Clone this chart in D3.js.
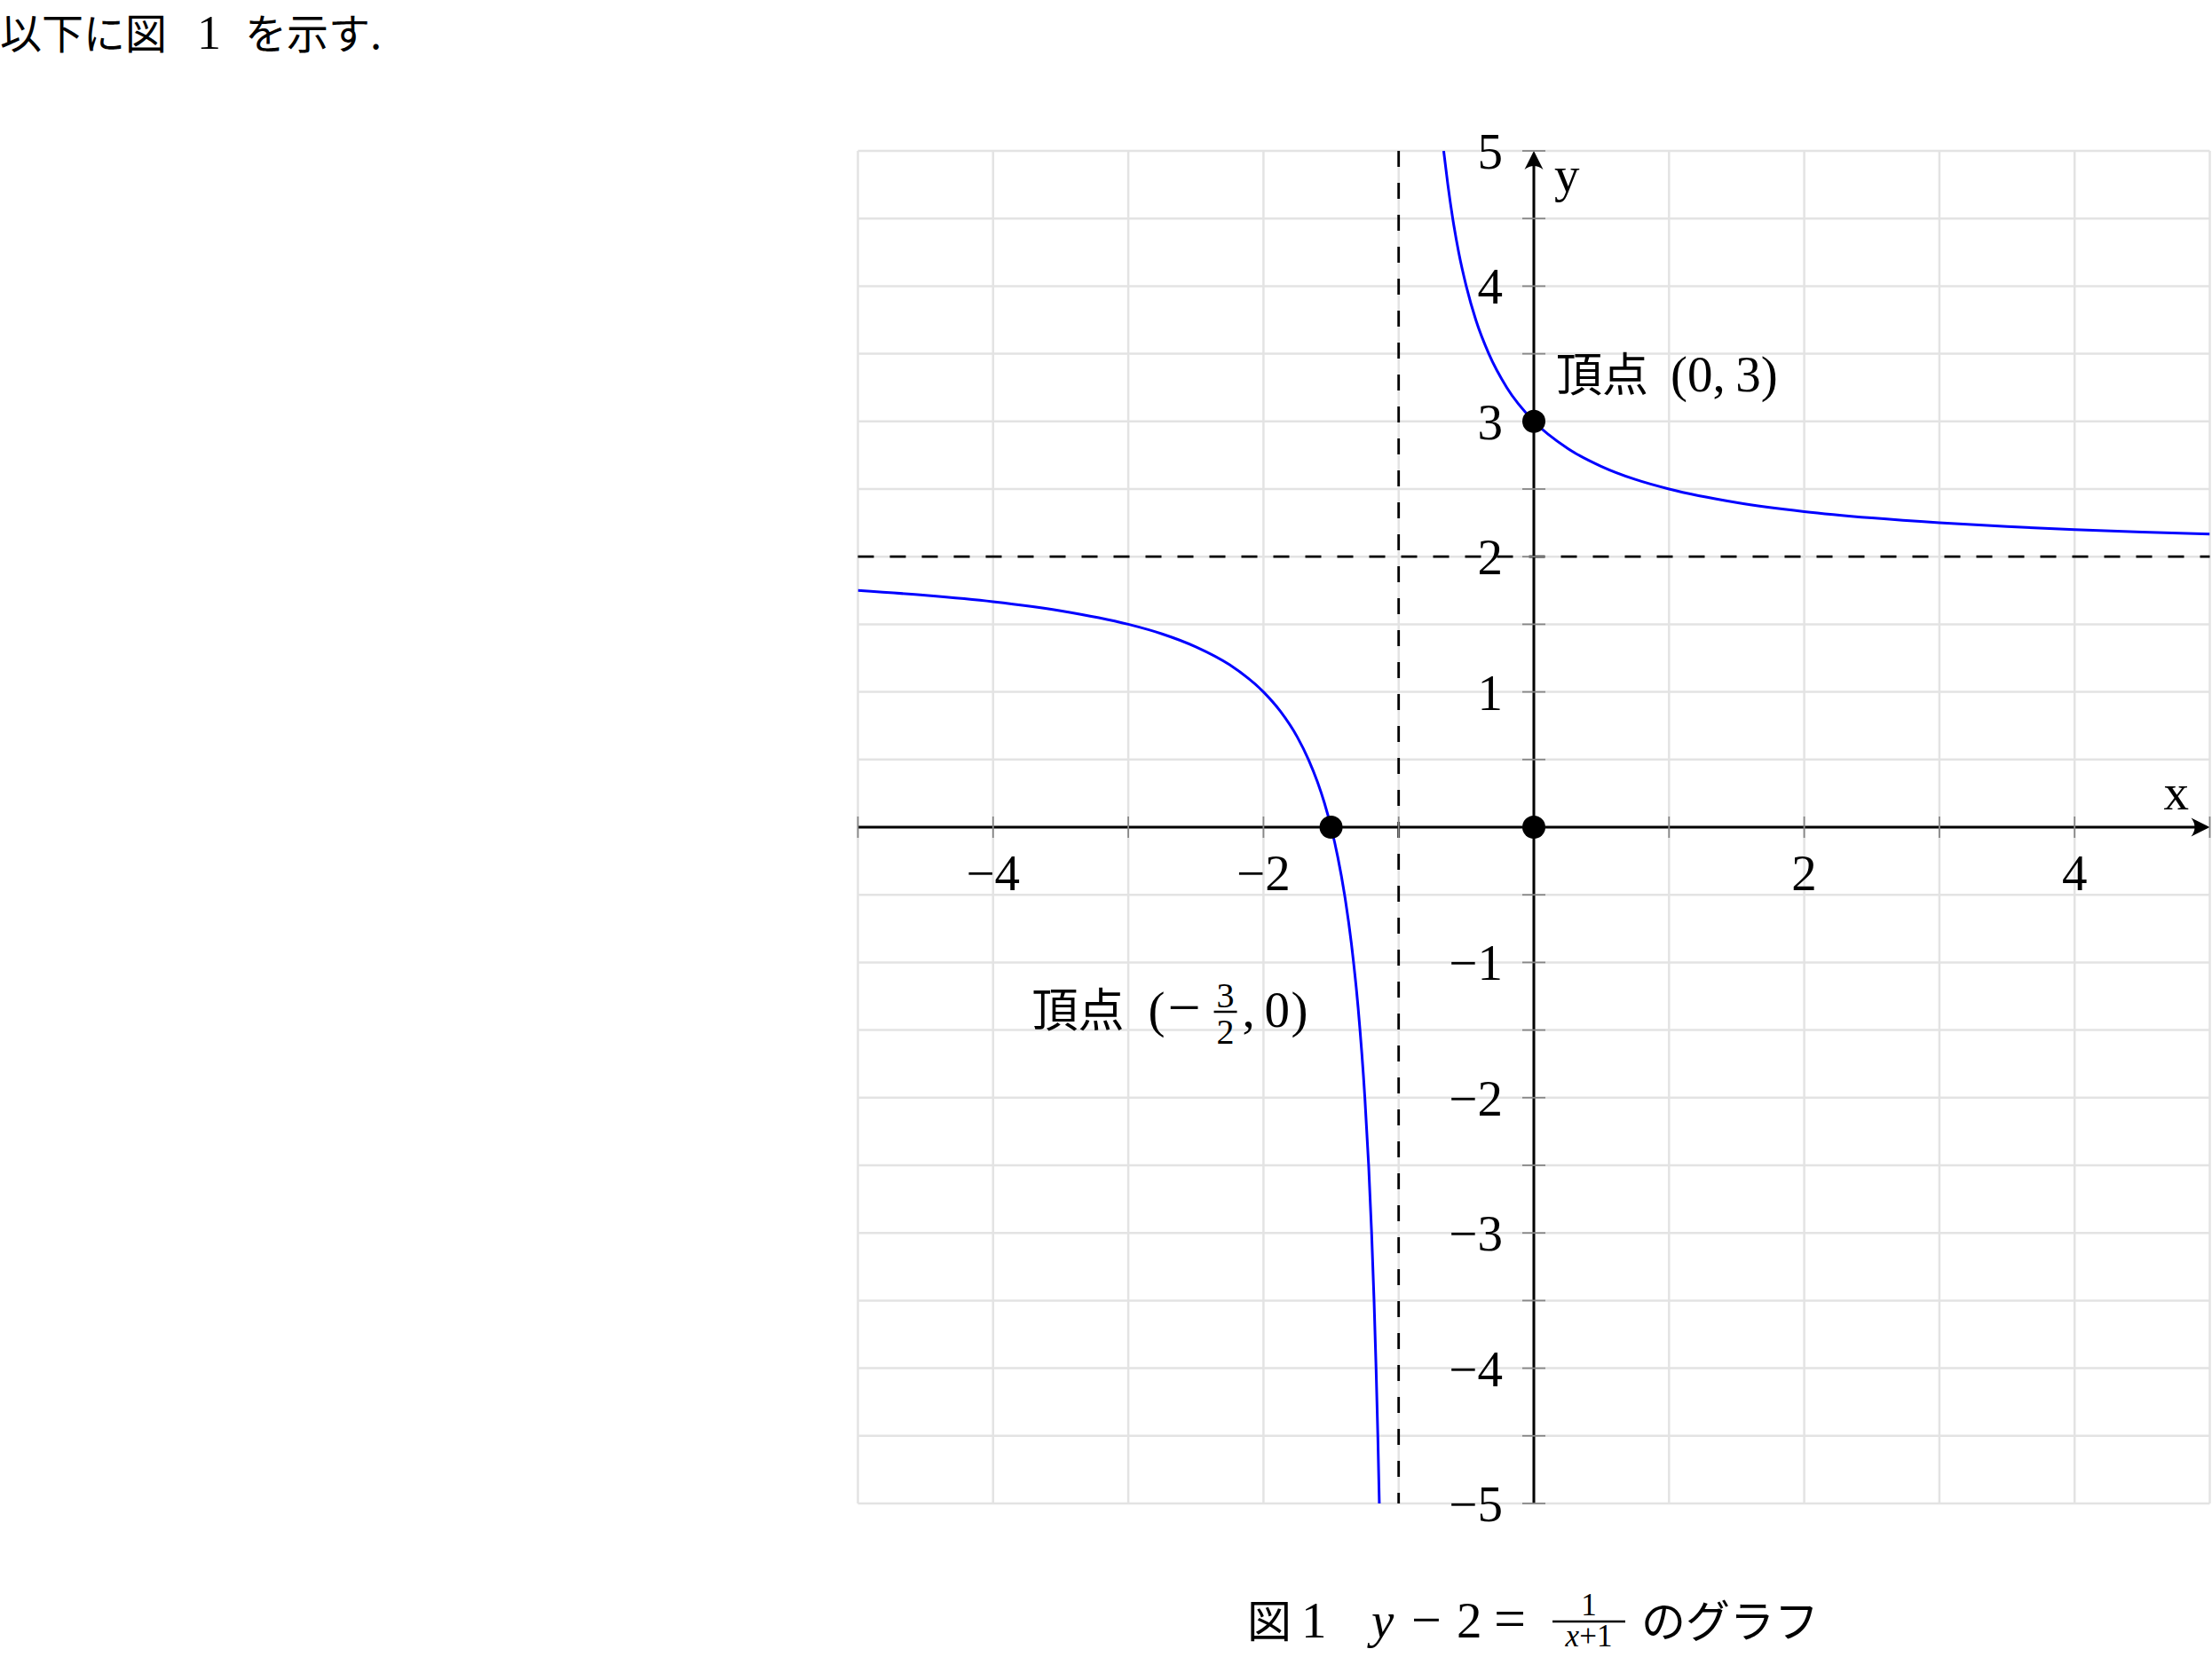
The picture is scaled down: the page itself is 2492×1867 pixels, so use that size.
<!DOCTYPE html>
<html><head><meta charset="utf-8">
<script src="https://cdn.jsdelivr.net/npm/d3@7"></script>
<style>html,body{margin:0;padding:0;background:#fff;}svg{display:block;}</style>
</head><body>
<script>
// ---- data ----
const xDomain = [-5, 5];
const yDomain = [-5, 5];
const xGridValues = [-5,-4,-3,-2,-1,0,1,2,3,4,5];
const yGridValues = [-5,-4.5,-4,-3.5,-3,-2.5,-2,-1.5,-1,-0.5,0,0.5,1,1.5,2,2.5,3,3.5,4,4.5,5];
const xTickLabels = [-4,-2,2,4];
const yTickLabels = [-5,-4,-3,-2,-1,1,2,3,4,5];
const asymptoteX = -1;
const asymptoteY = 2;
const leftBranchX = [-5,-4.5,-4,-3.5,-3,-2.75,-2.5,-2.25,-2,-1.875,-1.75,-1.667,-1.6,-1.55,-1.5,-1.45,-1.4,-1.35,-1.3,-1.25,-1.222,-1.2,-1.182,-1.167,-1.154,-1.143];
const leftBranchY = [1.75,1.714,1.667,1.6,1.5,1.429,1.333,1.2,1.0,0.857,0.667,0.5,0.333,0.182,0,-0.222,-0.5,-0.857,-1.333,-2,-2.5,-3,-3.5,-4,-4.5,-5];
const rightBranchX = [-0.667,-0.636,-0.6,-0.556,-0.5,-0.429,-0.333,-0.2,0,0.25,0.5,0.75,1,1.5,2,2.5,3,3.5,4,4.5,5];
const rightBranchY = [5,4.75,4.5,4.25,4,3.75,3.5,3.25,3,2.8,2.667,2.571,2.5,2.4,2.333,2.286,2.25,2.222,2.2,2.182,2.167];
const pointX = [0,-1.5,0];
const pointY = [3,0,0];

// ---- setup ----
const W = 2492, H = 1867;
const serif = "'Liberation Serif','DejaVu Serif',serif";
const cjk = "'Noto Sans CJK JP','Noto Sans CJK SC',sans-serif";
const svg = d3.select("body").append("svg").attr("width", W).attr("height", H)
  .style("background", "#fff");

const plot = {left: 966.5, right: 2489.5, top: 170, bottom: 1694};
const x = d3.scaleLinear().domain(xDomain).range([plot.left, plot.right]);
const y = d3.scaleLinear().domain(yDomain).range([plot.bottom, plot.top]);

svg.append("defs").append("clipPath").attr("id","clip")
  .append("rect").attr("x", plot.left).attr("y", plot.top)
  .attr("width", plot.right - plot.left).attr("height", plot.bottom - plot.top);

// grid
const grid = svg.append("g").attr("stroke", "#e3e3e3").attr("stroke-width", 2.5);
grid.selectAll("line.v").data(xGridValues).join("line")
  .attr("x1", d => x(d)).attr("x2", d => x(d)).attr("y1", plot.top).attr("y2", plot.bottom);
grid.selectAll("line.h").data(yGridValues).join("line")
  .attr("x1", plot.left).attr("x2", plot.right).attr("y1", d => y(d)).attr("y2", d => y(d));

// asymptotes
svg.append("line").attr("x1", x(asymptoteX)).attr("x2", x(asymptoteX))
  .attr("y1", plot.top).attr("y2", plot.bottom)
  .attr("stroke", "#000").attr("stroke-width", 2.8).attr("stroke-dasharray", "18,18");
svg.append("line").attr("x1", plot.left).attr("x2", plot.right)
  .attr("y1", y(asymptoteY)).attr("y2", y(asymptoteY))
  .attr("stroke", "#000").attr("stroke-width", 2.8).attr("stroke-dasharray", "18,18");

// axes
const ax = svg.append("g");
ax.append("line").attr("x1", plot.left).attr("x2", x(5) - 4).attr("y1", y(0)).attr("y2", y(0))
  .attr("stroke", "#000").attr("stroke-width", 3);
ax.append("line").attr("x1", x(0)).attr("x2", x(0)).attr("y1", plot.bottom).attr("y2", y(5) + 4)
  .attr("stroke", "#000").attr("stroke-width", 3);
const arrow = "M0,0 L-21,-10.5 Q-13,0 -21,10.5 Z";
ax.append("path").attr("d", arrow).attr("fill", "#000")
  .attr("transform", `translate(${x(5)},${y(0)})`);
ax.append("path").attr("d", arrow).attr("fill", "#000")
  .attr("transform", `translate(${x(0)},${y(5)}) rotate(-90)`);

// ticks
const tk = svg.append("g").attr("stroke", "#888").attr("stroke-width", 1.8);
tk.selectAll("line.xt").data(xGridValues).join("line")
  .attr("x1", d => x(d)).attr("x2", d => x(d)).attr("y1", y(0) - 12).attr("y2", y(0) + 12);
tk.selectAll("line.yt").data(yGridValues).join("line")
  .attr("x1", x(0) - 13).attr("x2", x(0) + 13).attr("y1", d => y(d)).attr("y2", d => y(d));

const fmt = d => d < 0 ? "\u2212" + Math.abs(d) : String(d);
svg.append("g").selectAll("text").data(xTickLabels).join("text")
  .attr("x", d => x(d)).attr("y", y(0) + 71).attr("text-anchor", "middle")
  .attr("font-family", serif).attr("font-size", 57).text(fmt);
svg.append("g").selectAll("text").data(yTickLabels).join("text")
  .attr("x", x(0) - 35).attr("y", d => y(d) + 20).attr("text-anchor", "end")
  .attr("font-family", serif).attr("font-size", 57).text(fmt);

// axis labels
svg.append("text").attr("x", x(5) - 52).attr("y", y(0) - 20).attr("text-anchor", "start")
  .attr("font-family", serif).attr("font-size", 57).text("x");
svg.append("text").attr("x", x(0) + 23).attr("y", y(5) + 46)
  .attr("font-family", serif).attr("font-size", 57).text("y");

// curves
const line = d3.line().x(d => x(d[0])).y(d => y(d[1])).curve(d3.curveMonotoneX);
const curves = svg.append("g").attr("clip-path", "url(#clip)");
curves.append("path").datum(leftBranchX.map((v, i) => [v, leftBranchY[i]]))
  .attr("d", line).attr("fill", "none").attr("stroke", "#0000ff").attr("stroke-width", 3);
curves.append("path").datum(rightBranchX.map((v, i) => [v, rightBranchY[i]]))
  .attr("d", line).attr("fill", "none").attr("stroke", "#0000ff").attr("stroke-width", 3);

// points
svg.append("g").selectAll("circle").data(pointX.map((v, i) => [v, pointY[i]])).join("circle")
  .attr("cx", d => x(d[0])).attr("cy", d => y(d[1])).attr("r", 13).attr("fill", "#000");

// text helper
function piece(x0, yb, str, font, size, extra) {
  const t = svg.append("text").attr("x", x0).attr("y", yb)
    .attr("font-family", font).attr("font-size", size).text(str);
  if (extra) for (const k in extra) t.attr(k, extra[k]);
  return t;
}

// annotation (0,3)
{
  const bx = x(0) + 25, by = y(3) - 34;
  piece(bx, by, "頂点", cjk, 52);
  piece(bx + 129, by, "(0,\u20093)", serif, 57);
}
// annotation (-3/2, 0)
{
  const bx = x(-1.5) - 337, by = y(0) + 225;
  piece(bx, by, "頂点", cjk, 52);
  piece(bx + 131, by, "(", serif, 57);
  piece(bx + 153, by, "\u2212", serif, 66);
  const barY = by - 17;
  piece(bx + 218, barY - 5, "3", serif, 40, {"text-anchor": "middle"});
  svg.append("line").attr("x1", bx + 205).attr("x2", bx + 231)
    .attr("y1", barY).attr("y2", barY).attr("stroke", "#000").attr("stroke-width", 2.5);
  piece(bx + 218, barY + 36, "2", serif, 40, {"text-anchor": "middle"});
  piece(bx + 237, by, ",", serif, 57);
  piece(bx + 262, by, "0", serif, 57);
  piece(bx + 292, by, ")", serif, 57);
}

// top text
piece(0, 55, "以下に図", cjk, 47);
piece(222, 55, "1", serif, 54);
piece(276, 55, "を示す.", cjk, 47);

// caption
{
  const by = 1845;
  piece(1405, by, "図", cjk, 50);
  piece(1466, by, "1", serif, 57);
  piece(1545, by, "y", serif, 57, {"font-style": "italic"});
  piece(1590, by, "\u2212", serif, 60);
  piece(1641, by, "2", serif, 57);
  piece(1683, by, "=", serif, 64);
  const cx = 1790, barY = 1827;
  piece(cx, barY - 7, "1", serif, 35, {"text-anchor": "middle"});
  svg.append("line").attr("x1", cx - 41).attr("x2", cx + 41).attr("y1", barY).attr("y2", barY)
    .attr("stroke", "#000").attr("stroke-width", 2.5);
  const den = svg.append("text").attr("x", cx).attr("y", barY + 28).attr("text-anchor", "middle")
    .attr("font-family", serif).attr("font-size", 35);
  den.append("tspan").attr("font-style", "italic").text("x");
  den.append("tspan").text("+1");
  piece(1849, by, "のグラフ", cjk, 50);
}
</script>
</body></html>
